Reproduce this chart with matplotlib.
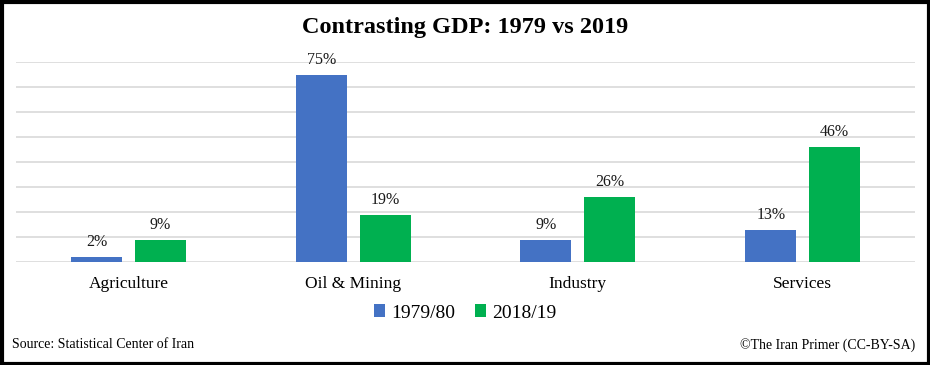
import matplotlib
matplotlib.use("Agg")
import matplotlib.pyplot as plt
import numpy as np
from matplotlib.patches import Rectangle

categories = ["Agriculture", "Oil & Mining", "Industry", "Services"]
series_names = ["1979/80", "2018/19"]
values_1979 = [2, 75, 9, 13]
values_2019 = [9, 19, 26, 46]
colors = ["#4472C4", "#00B050"]

plt.rcParams['font.family'] = ['Liberation Serif', 'DejaVu Serif']

fig = plt.figure(figsize=(9.3, 3.65), dpi=100)
W, H = 930, 365
ax = fig.add_axes([16 / W, 1 - 262 / H, (915 - 16) / W, (262 - 62) / H])

x = np.arange(len(categories))
bw = 0.227
off = 0.142
b1 = ax.bar(x - off, values_1979, bw, color=colors[0], label=series_names[0], zorder=3)
b2 = ax.bar(x + off, values_2019, bw, color=colors[1], label=series_names[1], zorder=3)

for bars, vals in ((b1, values_1979), (b2, values_2019)):
    for r, v in zip(bars, vals):
        ax.annotate(f"{v}%", (r.get_x() + r.get_width() / 2, v), xytext=(0, 5),
                    textcoords="offset points", ha="center", va="bottom",
                    fontsize=11.5, color="#1a1a1a")

ax.set_xlim(-0.5, len(categories) - 0.5)
ax.set_ylim(0, 80)
ax.set_yticks(np.arange(0, 81, 10))
ax.set_yticklabels([])
ax.tick_params(axis="y", length=0)
ax.tick_params(axis="x", length=0, pad=10, labelsize=12.5)
ax.set_xticks(x)
ax.set_xticklabels(categories)
ax.grid(axis="y", color="#D9D9D9", linewidth=1.2, zorder=0)
for s in ax.spines.values():
    s.set_visible(False)

fig.text(0.5, 1 - 28 / H, "Contrasting GDP: 1979 vs 2019", ha="center", va="center",
         fontsize=17.5, fontweight="bold")

leg = fig.legend(handles=[b1, b2], labels=series_names, loc="center",
                 bbox_to_anchor=(0.5, 1 - 313 / H), ncol=2, frameon=False,
                 fontsize=14, handlelength=0.6, handleheight=0.6,
                 handletextpad=0.3, columnspacing=1.0)

fig.text(12 / W, 1 - 345 / H, "Source: Statistical Center of Iran", ha="left",
         va="center", fontsize=10)
fig.text(915 / W, 1 - 345 / H, "\u00a9The Iran Primer (CC-BY-SA)", ha="right",
         va="center", fontsize=10)

fig.patches.append(Rectangle((1.5 / W, 1.5 / H), 1 - 3 / W, 1 - 3 / H,
                             transform=fig.transFigure, fill=False,
                             edgecolor="black", linewidth=3))

fig.savefig("out.png", dpi=100, facecolor="white")
